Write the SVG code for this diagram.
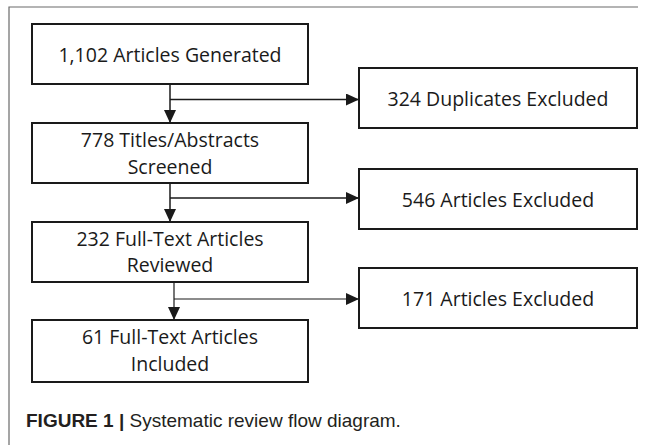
<svg xmlns="http://www.w3.org/2000/svg" width="651" height="445" viewBox="0 0 651 445">
<style>
.box{fill:#fff;stroke:#1a1a1a;stroke-width:2}
.t{font-family:"Open Sans","Liberation Sans",sans-serif;font-size:19.5px;fill:#1a1a1a;text-anchor:middle}
.c{fill:none;stroke:#1a1a1a;stroke-width:1.5}
.frame{fill:none;stroke:#6a6a6a;stroke-width:1.2}
.cap{font-family:"Liberation Sans",Arial,sans-serif;font-size:19px;fill:#231f20}
</style>
<defs>
<marker id="ah" markerUnits="userSpaceOnUse" markerWidth="14" markerHeight="12" refX="13" refY="6" orient="auto">
<path d="M0,0 L13,6 L0,12 z" fill="#1a1a1a"/>
</marker>
</defs>
<rect width="651" height="445" fill="#fff"/>
<path class="frame" d="M9,445 V7 H638"/>
<g id="connectors">
<path class="c" d="M170,84 V123" marker-end="url(#ah)"/>
<path class="c" d="M170,99.5 H359" marker-end="url(#ah)"/>
<path class="c" d="M170,183 V222" marker-end="url(#ah)"/>
<path class="c" d="M170,198 H359" marker-end="url(#ah)"/>
<path class="c" style="stroke-width:1.2" d="M174,282 V320" marker-end="url(#ah)"/>
<path class="c" style="stroke-width:1.2" d="M174,299 H359" marker-end="url(#ah)"/>
</g>
<g id="n1"><rect class="box" x="32" y="24" width="276" height="60"/><text class="t" x="170" y="62">1,102 Articles Generated</text></g>
<g id="n2"><rect class="box" x="32" y="123" width="276" height="60"/><text class="t" x="170" y="146.5">778 Titles/Abstracts</text><text class="t" x="170" y="173.5">Screened</text></g>
<g id="n3"><rect class="box" x="32" y="222" width="276" height="60"/><text class="t" x="170" y="245.5">232 Full-Text Articles</text><text class="t" x="170" y="272">Reviewed</text></g>
<g id="n4"><rect class="box" x="32" y="320" width="276" height="62"/><text class="t" x="170" y="344">61 Full-Text Articles</text><text class="t" x="170" y="371">Included</text></g>
<g id="e1"><rect class="box" x="359" y="68" width="278" height="60"/><text class="t" x="498" y="105.5">324 Duplicates Excluded</text></g>
<g id="e2"><rect class="box" x="359" y="169" width="278" height="60"/><text class="t" x="498" y="207">546 Articles Excluded</text></g>
<g id="e3"><rect class="box" x="359" y="268" width="278" height="60"/><text class="t" x="498" y="305.5">171 Articles Excluded</text></g>
<text class="cap" x="26" y="427"><tspan font-weight="bold">FIGURE 1 |</tspan> Systematic review flow diagram.</text>
</svg>
